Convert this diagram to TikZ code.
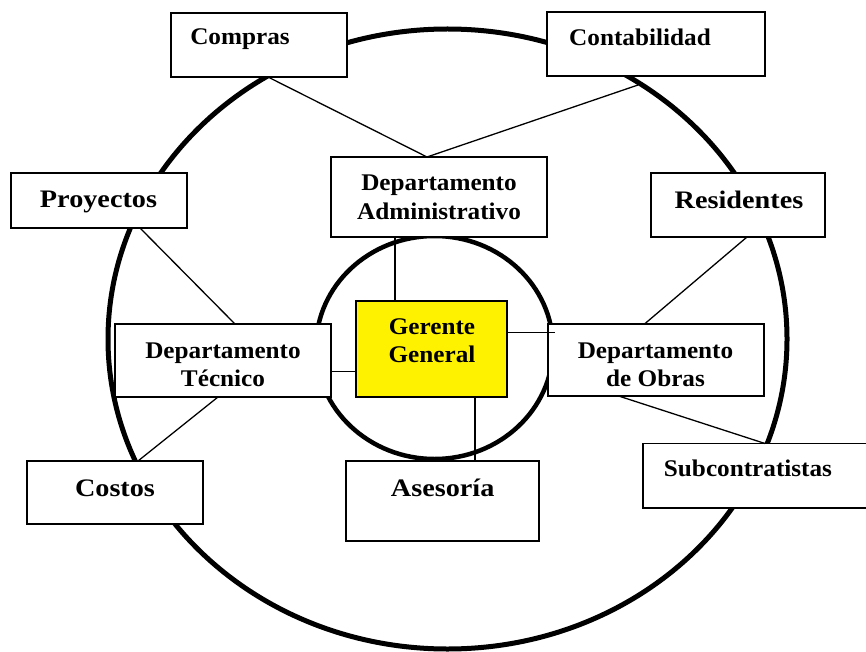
\documentclass[tikz,border=0pt]{standalone}
\usepackage{fontspec}
\newfontfamily\smallf{Liberation Serif}[FakeStretch=1.055]
\newfontfamily\bigf{Liberation Serif}[FakeStretch=1.12]
\begin{document}
\begin{tikzpicture}[x=1pt,y=-1pt,
  box/.style={draw=black,line width=1.6pt,fill=white,inner sep=0pt,outer sep=0pt},
  boss/.style={box,fill=yellow},
  lbl/.style={inner sep=0pt,font=\smallf\bfseries\fontsize{23.9}{28.5}\selectfont},
  twolbl/.style={lbl,align=center},
  biglbl/.style={inner sep=0pt,font=\bigf\bfseries\fontsize{25.2}{30}\selectfont},
  link/.style={draw=black,line width=1.3pt},
  ring/.style={draw=black,line width=5pt}]
\useasboundingbox (0,0) rectangle (866,652);
\clip (0,0) rectangle (866,652);
% rings
\draw[ring] (447.5,339) ellipse [x radius=339.5pt, y radius=310pt];
\draw[ring,line width=4.5pt] (434.5,347.5) ellipse [x radius=118.5pt, y radius=111.5pt];
% boxes
\node[box,minimum width=176pt,minimum height=64pt] (compras) at (259,45) {};
\node[box,minimum width=218pt,minimum height=64pt] (conta) at (656,44) {};
\node[box,minimum width=176pt,minimum height=55pt] (proy) at (99,200.5) {};
\node[box,minimum width=216pt,minimum height=80pt] (admin) at (439,197) {};
\node[box,minimum width=174pt,minimum height=64pt] (resid) at (738,205) {};
\node[boss,minimum width=151pt,minimum height=96pt] (ger) at (431.5,349) {};
\node[box,minimum width=216pt,minimum height=73pt] (tec) at (223,360.5) {};
\node[box,minimum width=216pt,minimum height=72pt] (obras) at (656,360) {};
\node[box,minimum width=176pt,minimum height=63pt] (costos) at (115,492.5) {};
\node[box,minimum width=193pt,minimum height=80pt] (ases) at (442.5,501) {};
\node[box,minimum width=237pt,minimum height=64.5pt] (subc) at (761.5,475.75) {};
% texts
\node[lbl,anchor=base] (comprasT) at (240,45) {Compras};
\node[lbl,anchor=base] (contaT) at (640,45.5) {Contabilidad};
\node[biglbl,anchor=base] (proyT) at (98.5,207.3) {Proyectos};
\node[twolbl] (adminT) at (439,199.3) {\strut Departamento\\\strut Administrativo};
\node[biglbl,anchor=base] (residT) at (739,208.3) {Residentes};
\node[twolbl] (gerT) at (432,342.9) {\strut Gerente\\\strut General};
\node[twolbl] (tecT) at (223,366.9) {\strut Departamento\\\strut Técnico};
\node[twolbl] (obrasT) at (655.5,366.9) {\strut Departamento\\\strut de Obras};
\node[biglbl,anchor=base] (costosT) at (115,496.7) {Costos};
\node[biglbl,anchor=base] (asesT) at (442.7,496.7) {Asesoría};
\node[lbl,anchor=base] (subcT) at (748,476.7) {Subcontratistas};
% connectors
\coordinate (ringpt) at (638,85);
\draw[link] ([xshift=9pt]compras.south) -- ([xshift=-12pt]admin.north);
\draw[link] (ringpt) -- ([xshift=-12pt]admin.north);
\draw[link] ([xshift=-36.5pt]ger.north) -- ([xshift=-36.5pt]ger.north |- admin.south);
\draw[link] ([xshift=41pt]proy.south) -- ([xshift=12pt]tec.north);
\draw[link] ([xshift=9pt]resid.south) -- ([xshift=-11.5pt]obras.north);
\draw[link,shorten >=-6.5pt] ([yshift=16.3pt]ger.east) -- ([yshift=27.3pt]obras.west);
\draw[link] ([yshift=-11.2pt]tec.east) -- ([yshift=-22.7pt]ger.west);
\draw[link] ([xshift=43.5pt]ger.south) -- ([xshift=32.5pt]ases.north);
\draw[link] ([xshift=-5pt]tec.south) -- ([xshift=23pt]costos.north);
\draw[link] ([xshift=-37.4pt]obras.south) -- ([xshift=3.5pt]subc.north);
\end{tikzpicture}
\end{document}
